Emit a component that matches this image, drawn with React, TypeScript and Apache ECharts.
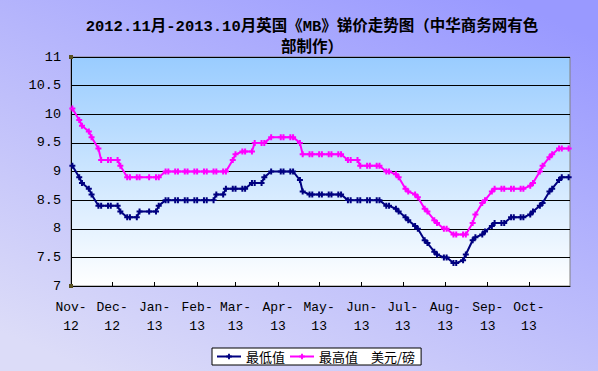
import React, { useEffect, useRef } from "react";
import * as echarts from "echarts";

const titleLines = ["2012.11月-2013.10月英国《MB》锑价走势图（中华商务网有色", "部制作）"];
const seriesNames = ["最低值", "最高值"];
const unitLabel = "美元/磅";

const monthStarts = [
  "2012-11-01", "2012-12-01", "2013-01-01", "2013-02-01", "2013-03-01", "2013-04-01",
  "2013-05-01", "2013-06-01", "2013-07-01", "2013-08-01", "2013-09-01", "2013-10-01",
];
const monthLabels = [
  "Nov-\n12", "Dec-\n12", "Jan-\n13", "Feb-\n13", "Mar-\n13", "Apr-\n13",
  "May-\n13", "Jun-\n13", "Jul-\n13", "Aug-\n13", "Sep-\n13", "Oct-\n13",
];
const axisStart = "2012-11-01";
const axisEnd = "2013-10-31";

const dates = [
  "2012-11-02", "2012-11-07", "2012-11-09", "2012-11-14", "2012-11-16", "2012-11-21", "2012-11-23", "2012-11-28", "2012-11-30",
  "2012-12-05", "2012-12-07", "2012-12-12", "2012-12-14", "2012-12-19", "2012-12-21", "2012-12-28",
  "2013-01-02", "2013-01-04", "2013-01-09", "2013-01-11", "2013-01-16", "2013-01-18", "2013-01-23", "2013-01-25", "2013-01-30",
  "2013-02-01", "2013-02-06", "2013-02-08", "2013-02-13", "2013-02-15", "2013-02-20", "2013-02-22", "2013-02-27",
  "2013-03-01", "2013-03-06", "2013-03-08", "2013-03-13", "2013-03-15", "2013-03-20", "2013-03-22", "2013-03-27",
  "2013-04-03", "2013-04-05", "2013-04-10", "2013-04-12", "2013-04-17", "2013-04-19", "2013-04-24", "2013-04-26",
  "2013-05-01", "2013-05-03", "2013-05-08", "2013-05-10", "2013-05-15", "2013-05-17", "2013-05-22", "2013-05-24", "2013-05-29", "2013-05-31",
  "2013-06-05", "2013-06-07", "2013-06-12", "2013-06-14", "2013-06-19", "2013-06-21", "2013-06-26", "2013-06-28",
  "2013-07-03", "2013-07-05", "2013-07-10", "2013-07-12", "2013-07-17", "2013-07-19", "2013-07-24", "2013-07-26", "2013-07-31",
  "2013-08-02", "2013-08-07", "2013-08-09", "2013-08-14", "2013-08-16", "2013-08-21", "2013-08-23", "2013-08-28", "2013-08-30",
  "2013-09-04", "2013-09-06", "2013-09-11", "2013-09-13", "2013-09-18", "2013-09-20", "2013-09-25", "2013-09-27",
  "2013-10-02", "2013-10-04", "2013-10-09", "2013-10-11", "2013-10-16", "2013-10-18", "2013-10-23", "2013-10-25", "2013-10-30",
];

const minValues = [
  9.1, 8.9, 8.8, 8.7, 8.6, 8.4, 8.4, 8.4, 8.4,
  8.4, 8.3, 8.2, 8.2, 8.2, 8.3, 8.3,
  8.3, 8.4, 8.5, 8.5, 8.5, 8.5, 8.5, 8.5, 8.5,
  8.5, 8.5, 8.5, 8.5, 8.6, 8.6, 8.7, 8.7,
  8.7, 8.7, 8.7, 8.8, 8.8, 8.8, 8.9, 9.0,
  9.0, 9.0, 9.0, 9.0, 8.85, 8.65, 8.6, 8.6,
  8.6, 8.6, 8.6, 8.6, 8.6, 8.6, 8.5, 8.5, 8.5, 8.5,
  8.5, 8.5, 8.5, 8.5, 8.4, 8.4, 8.35, 8.3,
  8.2, 8.15, 8.05, 8.0, 7.8, 7.75, 7.6, 7.55, 7.5,
  7.5, 7.4, 7.4, 7.45, 7.55, 7.8, 7.85, 7.9, 7.95,
  8.05, 8.1, 8.1, 8.1, 8.2, 8.2, 8.2, 8.2,
  8.25, 8.3, 8.4, 8.45, 8.65, 8.7, 8.85, 8.9, 8.9,
];

const maxValues = [
  10.1, 9.9, 9.8, 9.7, 9.6, 9.4, 9.2, 9.2, 9.2,
  9.2, 9.1, 8.9, 8.9, 8.9, 8.9, 8.9,
  8.9, 8.9, 9.0, 9.0, 9.0, 9.0, 9.0, 9.0, 9.0,
  9.0, 9.0, 9.0, 9.0, 9.0, 9.0, 9.0, 9.2,
  9.3, 9.35, 9.35, 9.35, 9.5, 9.5, 9.5, 9.6,
  9.6, 9.6, 9.6, 9.6, 9.5, 9.3, 9.3, 9.3,
  9.3, 9.3, 9.3, 9.3, 9.3, 9.3, 9.2, 9.2, 9.2, 9.1,
  9.1, 9.1, 9.1, 9.1, 9.0, 9.0, 8.95, 8.9,
  8.7, 8.65, 8.6, 8.55, 8.35, 8.3, 8.15, 8.1, 8.0,
  8.0, 7.9, 7.9, 7.9, 7.9, 8.1, 8.25, 8.45, 8.5,
  8.65, 8.7, 8.7, 8.7, 8.7, 8.7, 8.7, 8.7,
  8.75, 8.8, 9.0, 9.1, 9.25, 9.3, 9.4, 9.4, 9.4,
];

const toTs = (s: string) => {
  const [y, m, d] = s.split("-").map(Number);
  return Date.UTC(y, m - 1, d);
};

const plusSymbol = "path://M2,0H4V2H6V4H4V6H2V4H0V2H2Z";
const monoFont = "'Liberation Mono', 'DejaVu Sans Mono', monospace";
const cjkFont = "'Noto Sans CJK SC', sans-serif";
const titleFont = "'Liberation Mono', 'Noto Sans CJK SC', monospace";

export default function App() {
  const ref = useRef<HTMLDivElement>(null);
  useEffect(() => {
    if (!ref.current) return;
    const chart = echarts.init(ref.current, null, { renderer: "svg" });
    const monthTs = monthStarts.map(toTs);
    const labelFor = (v: number) => {
      const i = monthTs.findIndex((t) => Math.abs(t - v) < 43200000);
      return i >= 0 ? monthLabels[i] : "";
    };
    const colors = ["#000080", "#FF00FF"];
    const valueSets = [minValues, maxValues];
    const titleStyle = {
      fontFamily: titleFont,
      fontSize: 15.5,
      fontWeight: "bold",
      lineHeight: 18,
      color: "#000",
    };
    chart.setOption({
      animation: false,
      backgroundColor: new echarts.graphic.LinearGradient(0.85, 0, 0.15, 1, [
        { offset: 0, color: "#9999FF" },
        { offset: 1, color: "#DCDCF8" },
      ]),
      title: titleLines.map((t, i) => ({
        text: t,
        left: 312,
        top: 18 + i * 21,
        padding: 0,
        textAlign: "center",
        textStyle: titleStyle,
      })),
      legend: {
        left: 212,
        top: 348,
        backgroundColor: "#FFFFFF",
        borderColor: "#000000",
        borderWidth: 1,
        borderRadius: 0,
        padding: [2, 6, 2, 4],
        itemWidth: 24,
        itemHeight: 7,
        itemGap: 4,
        data: seriesNames,
        formatter: (name: string) => (name === seriesNames[1] ? name + "\u3000" + unitLabel : name),
        textStyle: { fontFamily: cjkFont, fontSize: 13, color: "#000" },
      },
      grid: {
        left: 71,
        top: 57,
        right: 28,
        bottom: 85,
        show: true,
        borderColor: "#808080",
        borderWidth: 1,
        backgroundColor: new echarts.graphic.LinearGradient(0, 0, 0, 1, [
          { offset: 0, color: "#99CCFF" },
          { offset: 1, color: "#FFFFFF" },
        ]),
      },
      xAxis: {
        type: "value",
        min: toTs(axisStart),
        max: toTs(axisEnd),
        axisLine: { show: true, onZero: false, lineStyle: { color: "#000", width: 1 } },
        axisTick: { show: true, inside: true, length: 4, lineStyle: { color: "#000" }, customValues: monthTs },
        splitLine: { show: false },
        axisLabel: {
          customValues: monthTs,
          formatter: (v: number) => labelFor(v),
          fontFamily: monoFont,
          fontSize: 13,
          lineHeight: 19,
          color: "#000",
          margin: 12,
          hideOverlap: false,
        },
      },
      yAxis: {
        type: "value",
        min: 7,
        max: 11,
        interval: 0.5,
        axisLine: { show: true, lineStyle: { color: "#000", width: 1 } },
        axisTick: { show: false },
        splitLine: { show: true, lineStyle: { color: "#000", width: 1 } },
        axisLabel: {
          fontFamily: monoFont,
          fontSize: 13.5,
          color: "#000",
          margin: 10,
        },
      },
      graphic: [
        { type: "rect", shape: { x: 69, y: 55, width: 4, height: 4 }, style: { fill: "#5A5020" }, z: 100 },
        { type: "rect", shape: { x: 69, y: 284, width: 4, height: 4 }, style: { fill: "#5A5020" }, z: 100 },
      ],
      series: seriesNames.map((name, si) => ({
        name,
        type: "line",
        data: dates.map((d, i) => [toTs(d), valueSets[si][i]]),
        symbol: plusSymbol,
        symbolSize: 6,
        showAllSymbol: true,
        lineStyle: { color: colors[si], width: 2 },
        itemStyle: { color: colors[si] },
      })),
    });
    return () => chart.dispose();
  }, []);
  return (
    <div
      ref={ref}
      style={{ position: "fixed", left: 0, top: 0, width: 598, height: 371 }}
    />
  );
}
